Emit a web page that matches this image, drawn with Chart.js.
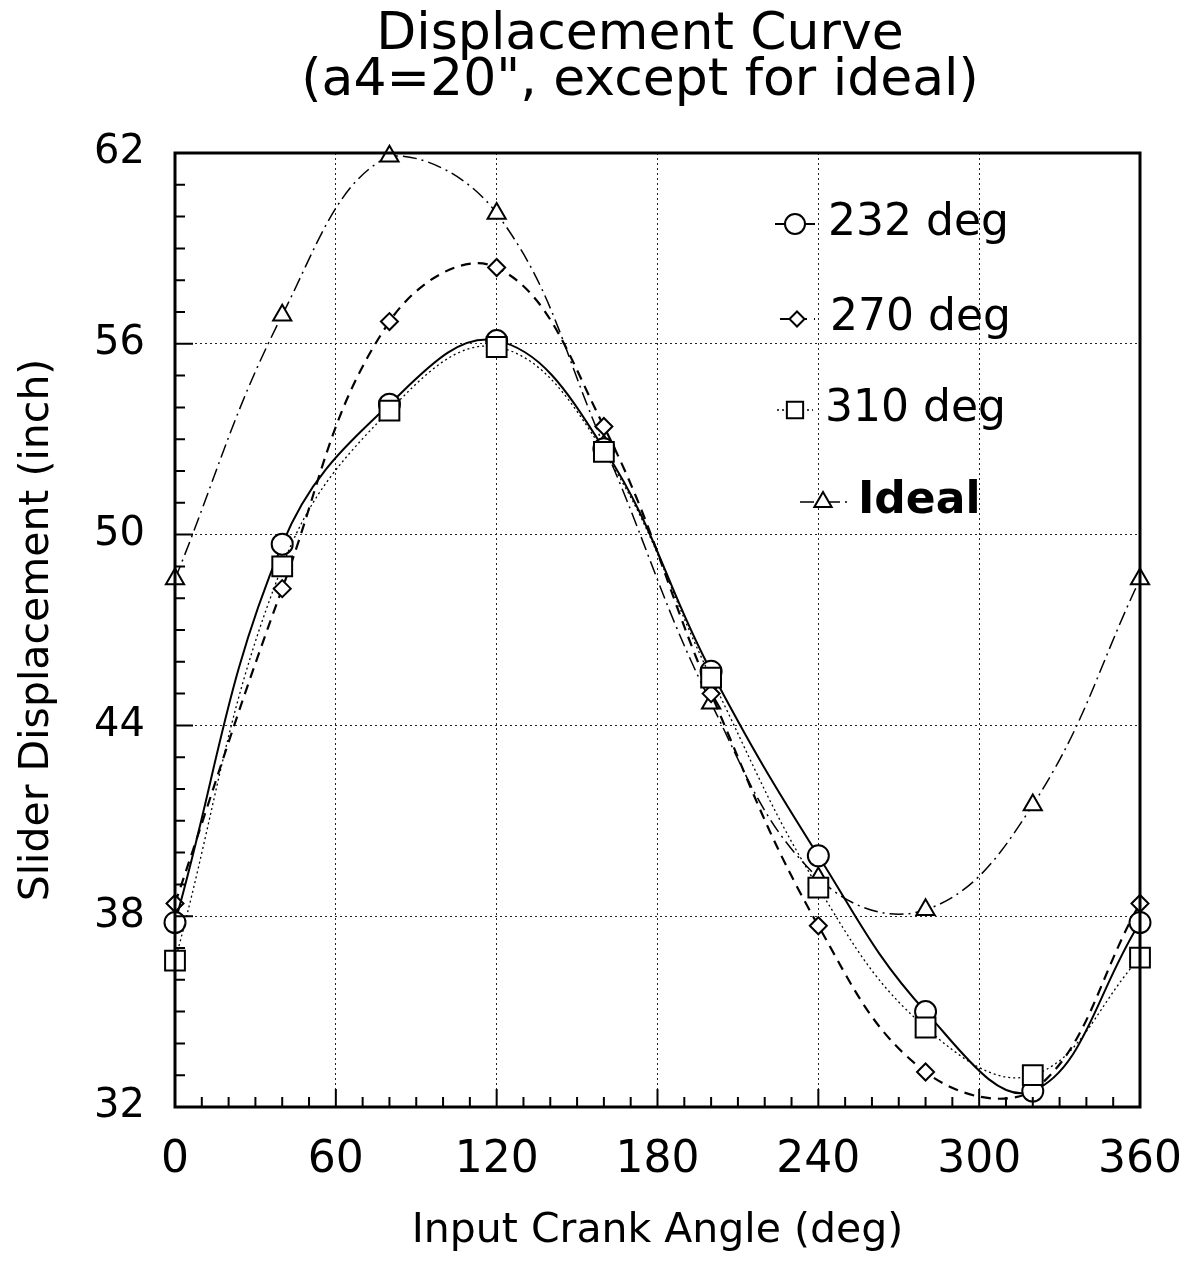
<!DOCTYPE html>
<html><head><meta charset="utf-8">
<script src="https://cdn.jsdelivr.net/npm/chart.js@4.4.0/dist/chart.umd.min.js"></script>
<style>html,body{margin:0;padding:0;background:#fff;} canvas{display:block;}</style>
</head><body>
<canvas id="c" width="1186" height="1274"></canvas>
<script>
// ---- data ----
const angles = [0, 40, 80, 120, 160, 200, 240, 280, 320, 360];
const deg232 = [37.8, 49.7, 54.1, 56.1, 52.7, 45.7, 39.9, 35.0, 32.5, 37.8];
const deg270 = [38.4, 48.3, 56.7, 58.4, 53.4, 45.0, 37.7, 33.1, 32.5, 38.4];
const deg310 = [36.6, 49.0, 53.9, 55.9, 52.6, 45.5, 38.9, 34.5, 33.0, 36.7];
const ideal  = [48.6, 56.9, 61.9, 60.1, 52.8, 44.7, 39.2, 38.2, 41.5, 48.6];
const seriesNames = ['232 deg', '270 deg', '310 deg', 'Ideal'];
const titleLines = ['Displacement Curve', '(a4=20", except for ideal)'];
const xTitle = 'Input Crank Angle (deg)';
const yTitle = 'Slider Displacement (inch)';

const FONT = '"DejaVu Sans", "Liberation Sans", sans-serif';
Chart.defaults.color = '#000';
Chart.defaults.font.family = FONT;

function pts(ys) { return angles.map((a, i) => ({ x: a, y: ys[i] })); }

const common = {
  borderColor: '#000', backgroundColor: '#fff', pointBackgroundColor: '#fff',
  pointBorderColor: '#000', fill: false, tension: 0.4, clip: false, showLine: true
};
const datasets = [
  Object.assign({}, common, { label: seriesNames[0], data: pts(deg232), borderWidth: 2, borderDash: [],
    pointStyle: 'circle', pointRadius: 10.5, pointBorderWidth: 2, order: 1 }),
  Object.assign({}, common, { label: seriesNames[1], data: pts(deg270), borderWidth: 2.2, borderDash: [10, 7],
    pointStyle: 'rectRot', pointRadius: 8.5, pointBorderWidth: 2, order: 2 }),
  Object.assign({}, common, { label: seriesNames[2], data: pts(deg310), borderWidth: 1.3, borderDash: [2, 3],
    pointStyle: 'rect', pointRadius: 14, pointBorderWidth: 2, order: 0 }),
  Object.assign({}, common, { label: seriesNames[3], data: pts(ideal), borderWidth: 1.5, borderDash: [14, 5, 2, 5],
    pointStyle: 'triangle', pointRadius: 10.5, pointBorderWidth: 2, order: 3 })
];

function drawMarker(ctx, style, r, x, y) {
  if (Chart.helpers && Chart.helpers.drawPoint) {
    Chart.helpers.drawPoint(ctx, { pointStyle: style, radius: r, rotation: 0, borderWidth: ctx.lineWidth }, x, y);
  }
}

const framePlugin = {
  id: 'frame',
  afterDatasetsDraw(chart) {
    const { ctx, chartArea: a, scales: { x, y } } = chart;
    ctx.save();
    ctx.strokeStyle = '#000';
    ctx.setLineDash([]);
    ctx.lineWidth = 2;
    ctx.beginPath();
    for (let v = 0; v <= 360; v += 10) {
      const px = x.getPixelForValue(v);
      const len = v % 60 === 0 ? 18 : 10;
      ctx.moveTo(px, a.bottom); ctx.lineTo(px, a.bottom - len);
    }
    for (let v = 32; v <= 62; v += 1) {
      const py = y.getPixelForValue(v);
      const len = (v - 32) % 6 === 0 ? 18 : 10;
      ctx.moveTo(a.left, py); ctx.lineTo(a.left + len, py);
    }
    ctx.stroke();
    ctx.lineWidth = 3;
    ctx.strokeRect(a.left, a.top, a.right - a.left, a.bottom - a.top);
    ctx.restore();
  }
};

const legendRows = [
  { lx0: 775, lx1: 815, mx: 795, y: 224, tx: 828, r: 10, bold: false },
  { lx0: 780, lx1: 815, mx: 797, y: 319, tx: 830, r: 7.5, bold: false },
  { lx0: 777, lx1: 813, mx: 795, y: 410, tx: 825, r: 11.5, bold: false },
  { lx0: 800, lx1: 848, mx: 823, y: 502, tx: 858, r: 10, bold: true }
];

const textPlugin = {
  id: 'texts',
  afterDraw(chart) {
    const ctx = chart.ctx;
    ctx.save();
    // title
    ctx.fillStyle = '#000';
    ctx.textAlign = 'center';
    ctx.textBaseline = 'alphabetic';
    ctx.font = '52px ' + FONT;
    ctx.fillText(titleLines[0], 640, 49);
    ctx.fillText(titleLines[1], 640, 95);
    // legend
    chart.data.datasets.forEach((ds, i) => {
      const row = legendRows[i];
      ctx.strokeStyle = '#000';
      ctx.lineWidth = ds.borderWidth;
      ctx.setLineDash(ds.borderDash);
      ctx.beginPath();
      ctx.moveTo(row.lx0, row.y); ctx.lineTo(row.lx1, row.y);
      ctx.stroke();
      ctx.setLineDash([]);
      ctx.fillStyle = '#fff';
      ctx.lineWidth = 2;
      drawMarker(ctx, ds.pointStyle, row.r, row.mx, row.y);
      ctx.fillStyle = '#000';
      ctx.textAlign = 'left';
      ctx.textBaseline = 'middle';
      ctx.font = (row.bold ? 'bold ' : '') + '44px ' + FONT;
      ctx.fillText(ds.label, row.tx, row.y);
    });
    ctx.restore();
  }
};

new Chart(document.getElementById('c'), {
  type: 'line',
  data: { datasets },
  options: {
    responsive: false,
    animation: false,
    layout: { padding: { top: 153, right: 46, bottom: 0, left: 0 } },
    plugins: { legend: { display: false }, tooltip: { enabled: false }, title: { display: false } },
    scales: {
      x: {
        type: 'linear', min: 0, max: 360,
        ticks: { stepSize: 60, padding: 27, font: { size: 44 }, maxRotation: 0, autoSkip: false },
        grid: { color: '#222', lineWidth: 1, drawTicks: false, borderDash: [2, 3] },
        border: { display: false, dash: [2, 3] },
        title: { display: true, text: xTitle, font: { size: 41 }, padding: { top: 0, bottom: 18 } },
        afterFit(s) { s.height = 167; s.paddingLeft = 0; s.paddingRight = 0; }
      },
      y: {
        type: 'linear', min: 32, max: 62,
        ticks: { stepSize: 6, padding: 30, font: { size: 40 } },
        grid: { color: '#222', lineWidth: 1, drawTicks: false, borderDash: [2, 3] },
        border: { display: false, dash: [2, 3] },
        title: { display: true, text: yTitle, font: { size: 41 }, padding: { top: 13, bottom: 0 } },
        afterFit(s) { s.width = 175; s.paddingTop = 0; s.paddingBottom = 0; }
      }
    }
  },
  plugins: [framePlugin, textPlugin]
});
</script>
</body></html>
